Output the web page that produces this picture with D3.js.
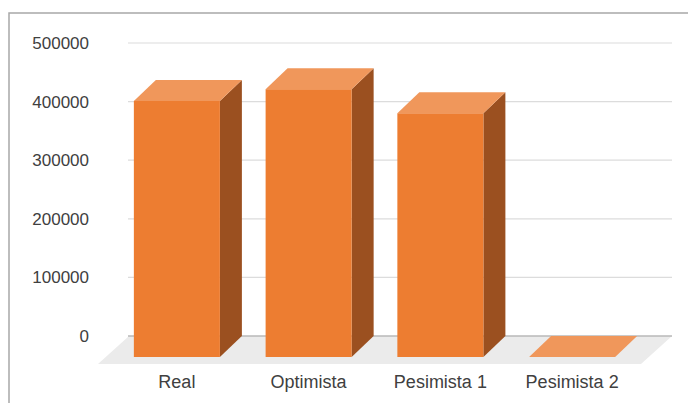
<!DOCTYPE html>
<html>
<head>
<meta charset="utf-8">
<script src="https://cdn.jsdelivr.net/npm/d3@7"></script>
<style>
  html, body { margin: 0; padding: 0; background: #fff; }
  svg { display: block; }
  text { font-family: "Liberation Sans", Arial, sans-serif; fill: #404040; }
</style>
</head>
<body>
<svg id="chart" width="688" height="403"></svg>
<script>
// Scenario totals
const categories = ["Real", "Optimista", "Pesimista 1", "Pesimista 2"];
const values = [437000, 457000, 416000, 0];
const yTicks = [0, 100000, 200000, 300000, 400000, 500000];

const W = 688, H = 403;
const svg = d3.select("#chart");

// 3D projection: bars' front face is shifted from the back wall
const barDX = 22, barDY = 21;     // bar depth (front -> back)
const floorDX = 31, floorDY = 28; // floor depth (front edge -> back wall)

// Value scale measured on the back wall
const yBack = d3.scaleLinear().domain([0, 500000]).range([336, 43]);
const yFront = v => yBack(v) + barDY;

// Category positions on the back wall
const xBack = d3.scaleBand().domain(categories).range([133, 660])
  .paddingInner(0.347).paddingOuter(0.1735);
const bw = xBack.bandwidth();
// Same categories projected onto the bars' front plane (for labels)
const xFront = d3.scaleBand().domain(categories)
  .range([133 - barDX, 660 - barDX]).paddingInner(0.347).paddingOuter(0.1735);

// Chart frame
svg.append("path")
  .attr("d", `M9,${H} L9,13 L${W},13`)
  .attr("fill", "none").attr("stroke", "#a8a8a8").attr("stroke-width", 1.5);

// Floor
const wallL = 129, wallR = 672;
svg.append("polygon")
  .attr("points", [
    [wallL, yBack(0)], [wallR, yBack(0)],
    [wallR - floorDX, yBack(0) + floorDY], [wallL - floorDX, yBack(0) + floorDY]
  ].map(p => p.join(",")).join(" "))
  .attr("fill", "#ebebeb");

// Gridlines on the back wall
svg.append("g").selectAll("line").data(yTicks).join("line")
  .attr("x1", wallL - 1).attr("x2", wallR)
  .attr("y1", d => yBack(d)).attr("y2", d => yBack(d))
  .attr("stroke", d => d === 0 ? "#b8b8b8" : "#dcdcdc")
  .attr("stroke-width", d => d === 0 ? 1.6 : 1.2);

// Value axis labels
const yAxis = svg.append("g").attr("transform", "translate(92,0)")
  .call(d3.axisLeft(yBack).tickValues(yTicks).tickSize(0).tickPadding(3).tickFormat(d3.format("d")));
yAxis.select(".domain").remove();
yAxis.selectAll("text")
  .style("font-family", "'Liberation Sans', Arial, sans-serif")
  .style("font-size", "17px").attr("fill", "#404040");

// Bars
const bars = svg.append("g").selectAll("g").data(categories).join("g");
bars.each(function (c, i) {
  const g = d3.select(this);
  const v = values[i];
  const xf = xBack(c) - barDX;
  const yt = yFront(v), yb = yFront(0);
  const poly = pts => pts.map(p => p.join(",")).join(" ");
  // side face
  g.append("polygon")
    .attr("points", poly([[xf + bw, yt], [xf + bw + barDX, yt - barDY], [xf + bw + barDX, yb - barDY], [xf + bw, yb]]))
    .attr("fill", "#9b5020");
  // front face
  g.append("rect")
    .attr("x", xf).attr("y", yt).attr("width", bw).attr("height", yb - yt)
    .attr("fill", "#ed7d31");
  // top face
  g.append("polygon")
    .attr("points", poly([[xf, yt], [xf + bw, yt], [xf + bw + barDX, yt - barDY], [xf + barDX, yt - barDY]]))
    .attr("fill", "#f0975b");
});

// Category labels
const xAxis = svg.append("g").attr("transform", "translate(0,370)")
  .call(d3.axisBottom(xFront).tickSize(0).tickPadding(0));
xAxis.select(".domain").remove();
xAxis.selectAll("text")
  .attr("dy", "0")
  .attr("y", 18)
  .style("font-family", "'Liberation Sans', Arial, sans-serif")
  .style("font-size", "18px").attr("fill", "#404040");
</script>
</body>
</html>
